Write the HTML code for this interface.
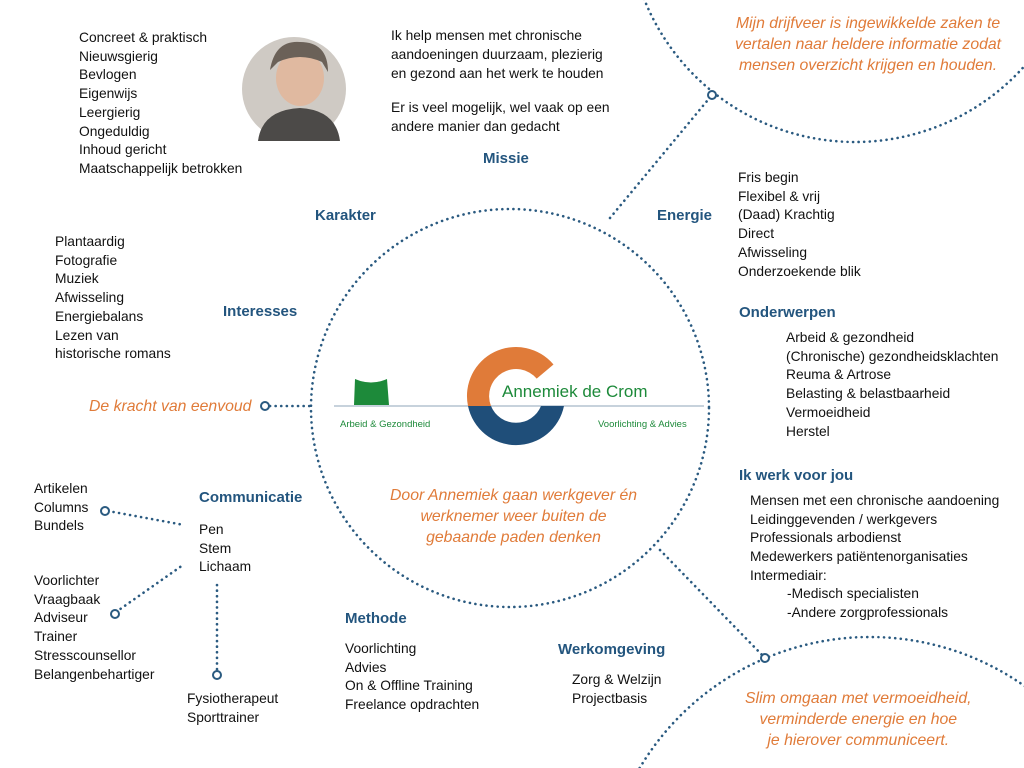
<!DOCTYPE html>
<html style="overflow:hidden"><head><meta charset="utf-8"><style>
html,body{margin:0;width:1024px;height:768px;overflow:hidden}
body{background:#fff;position:relative;font-family:"Liberation Sans",sans-serif;}
.t{position:absolute;font-size:13.8px;line-height:18.7px;color:#111;white-space:nowrap}
.h{position:absolute;font-size:15px;font-weight:bold;color:#23557e;white-space:nowrap}
.o{position:absolute;font-size:15.8px;font-style:italic;color:#e07b39;line-height:21px;text-align:center;white-space:nowrap}
svg{position:absolute;left:0;top:0}
</style></head><body>
<svg width="1024" height="768">
<g fill="none" stroke="#2a5a80" stroke-width="2.6" stroke-dasharray="0.1 5.5" stroke-linecap="round">
<circle cx="510" cy="408" r="199"/>
<circle cx="855" cy="-85" r="227"/>
<circle cx="870" cy="905" r="268"/>
<line x1="610" y1="218" x2="712" y2="95"/>
<line x1="660" y1="550" x2="765" y2="658"/>
<line x1="270" y1="406" x2="312" y2="406"/>
<line x1="108" y1="511" x2="184" y2="525"/>
<line x1="116" y1="612" x2="183" y2="565"/>
<line x1="217" y1="585" x2="217" y2="670"/>
</g>
<g fill="#fff" stroke="#2a5a80" stroke-width="2">
<circle cx="712" cy="95" r="4"/><circle cx="765" cy="658" r="4"/><circle cx="265" cy="406" r="4"/>
<circle cx="105" cy="511" r="4"/><circle cx="115" cy="614" r="4"/><circle cx="217" cy="675" r="4"/>
</g>
<circle cx="294" cy="89" r="52" fill="#cfcac4"/>
<ellipse cx="300" cy="78" rx="24" ry="28" fill="#e0b9a0"/>
<path d="M270 70 Q275 40 300 42 Q328 42 328 72 L322 62 Q300 52 278 62Z" fill="#6b6158"/>
<path d="M258 141 Q262 110 300 108 Q336 110 340 141Z" fill="#4c4a48"/>
<line x1="334" y1="406" x2="704" y2="406" stroke="#8fa5b8" stroke-width="1"/>
<path d="M355 379 Q371 386 387 379 L389 405 L354 405Z" fill="#1d8a3a"/>
<path d="M553.5 364.5 A49 49 0 0 0 468 406 L491 406 A27 27 0 0 1 536.7 378.6Z" fill="#e07b39"/>
<path d="M468 406 A49 49 0 0 0 564 406 L541 406 A27 27 0 0 1 491 406Z" fill="#1f4e79"/>
<text x="502" y="397" font-family="Liberation Sans" font-size="17" fill="#1d8a3a">Annemiek de Crom</text>
<text x="340" y="427" font-family="Liberation Sans" font-size="9.5" fill="#1d8a3a">Arbeid &amp; Gezondheid</text>
<text x="598" y="427" font-family="Liberation Sans" font-size="9.5" fill="#1d8a3a">Voorlichting &amp; Advies</text>
</svg>
<div class="t" style="left:79px;top:29px">Concreet &amp; praktisch<br>Nieuwsgierig<br>Bevlogen<br>Eigenwijs<br>Leergierig<br>Ongeduldig<br>Inhoud gericht<br>Maatschappelijk betrokken</div>
<div class="t" style="left:391px;top:26px;line-height:19px">Ik help mensen met chronische<br>aandoeningen duurzaam, plezierig<br>en gezond aan het werk te houden</div>
<div class="t" style="left:391px;top:98px;line-height:19px">Er is veel mogelijk, wel vaak op een<br>andere manier dan gedacht</div>
<div class="o" style="left:735px;top:13px">Mijn drijfveer is ingewikkelde zaken te<br>vertalen naar heldere informatie zodat<br>mensen overzicht krijgen en houden.</div>
<div class="h" style="left:483px;top:150px">Missie</div>
<div class="h" style="left:315px;top:207px">Karakter</div>
<div class="h" style="left:657px;top:207px">Energie</div>
<div class="t" style="left:738px;top:169px">Fris begin<br>Flexibel &amp; vrij<br>(Daad) Krachtig<br>Direct<br>Afwisseling<br>Onderzoekende blik</div>
<div class="t" style="left:55px;top:233px">Plantaardig<br>Fotografie<br>Muziek<br>Afwisseling<br>Energiebalans<br>Lezen van<br>historische romans</div>
<div class="h" style="left:223px;top:303px">Interesses</div>
<div class="h" style="left:739px;top:304px">Onderwerpen</div>
<div class="t" style="left:786px;top:329px">Arbeid &amp; gezondheid<br>(Chronische) gezondheidsklachten<br>Reuma &amp; Artrose<br>Belasting &amp; belastbaarheid<br>Vermoeidheid<br>Herstel</div>
<div class="o" style="left:89px;top:396px">De kracht van eenvoud</div>
<div class="h" style="left:739px;top:467px">Ik werk voor jou</div>
<div class="t" style="left:750px;top:492px">Mensen met een chronische aandoening<br>Leidinggevenden / werkgevers<br>Professionals arbodienst<br>Medewerkers patiëntenorganisaties<br>Intermediair:</div>
<div class="t" style="left:787px;top:585px">-Medisch specialisten<br>-Andere zorgprofessionals</div>
<div class="o" style="left:390px;top:485px">Door Annemiek gaan werkgever én<br>werknemer weer buiten de<br>gebaande paden denken</div>
<div class="t" style="left:34px;top:480px">Artikelen<br>Columns<br>Bundels</div>
<div class="h" style="left:199px;top:489px">Communicatie</div>
<div class="t" style="left:199px;top:521px">Pen<br>Stem<br>Lichaam</div>
<div class="t" style="left:34px;top:572px">Voorlichter<br>Vraagbaak<br>Adviseur<br>Trainer<br>Stresscounsellor<br>Belangenbehartiger</div>
<div class="t" style="left:187px;top:690px">Fysiotherapeut<br>Sporttrainer</div>
<div class="h" style="left:345px;top:610px">Methode</div>
<div class="t" style="left:345px;top:640px">Voorlichting<br>Advies<br>On &amp; Offline Training<br>Freelance opdrachten</div>
<div class="h" style="left:558px;top:641px">Werkomgeving</div>
<div class="t" style="left:572px;top:671px">Zorg &amp; Welzijn<br>Projectbasis</div>
<div class="o" style="left:745px;top:688px">Slim omgaan met vermoeidheid,<br>verminderde energie en hoe<br>je hierover communiceert.</div>
</body></html>
